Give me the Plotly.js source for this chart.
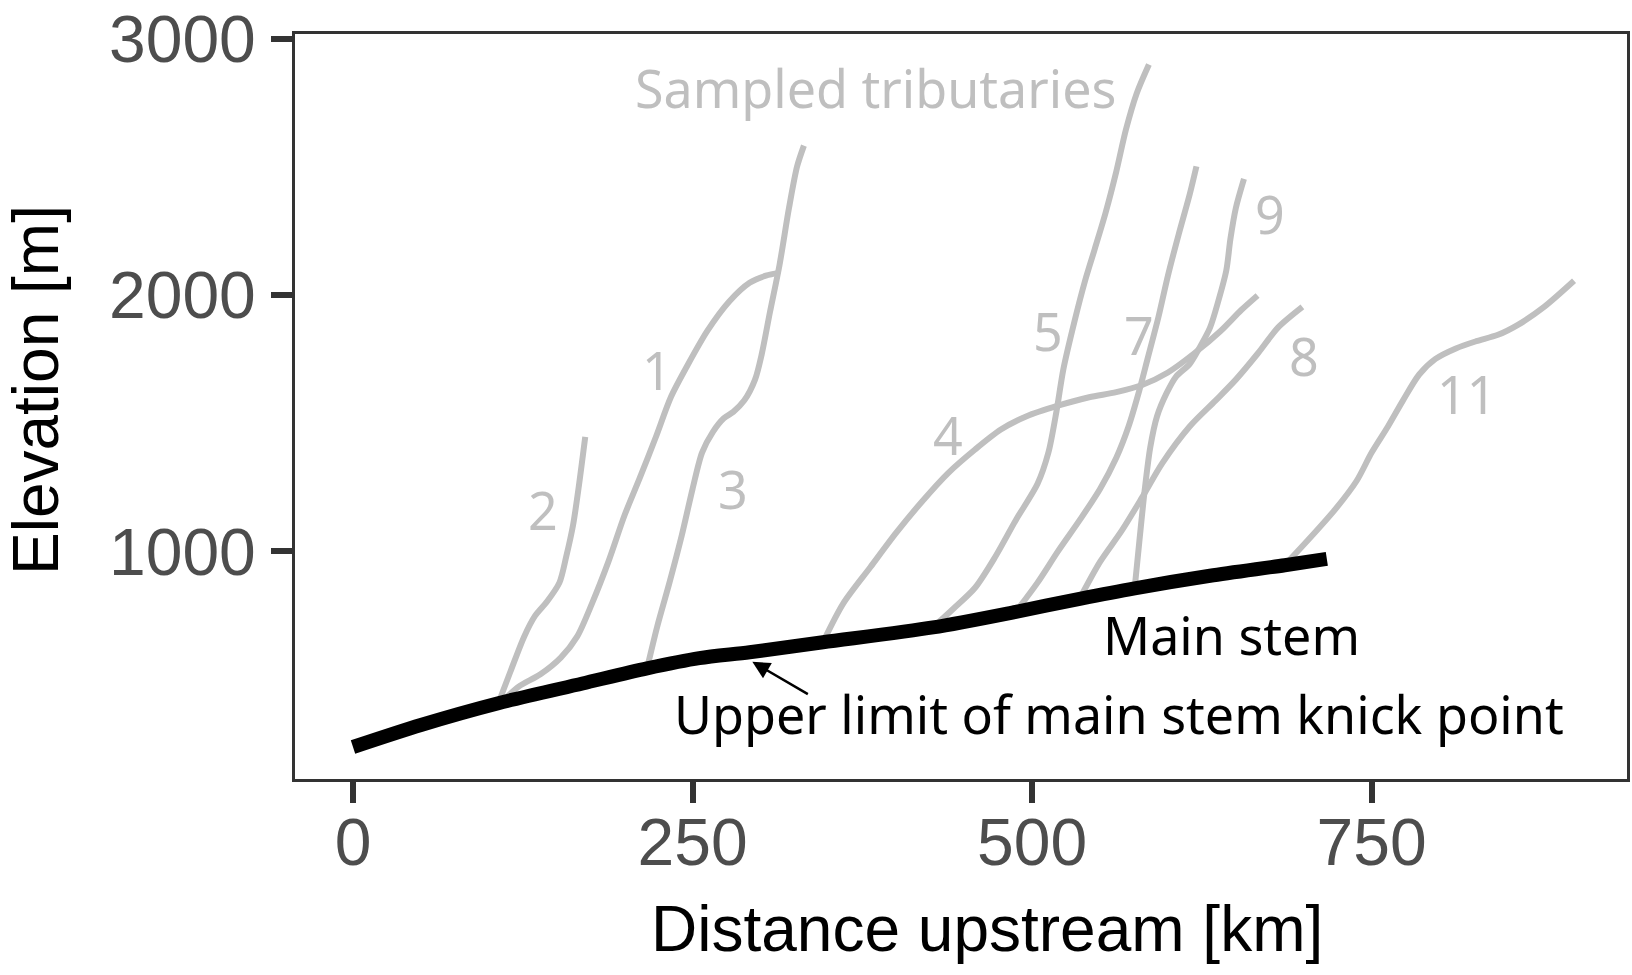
<!DOCTYPE html>
<html>
<head>
<meta charset="utf-8">
<script src="https://cdn.plot.ly/plotly-3.0.1.min.js"></script>
<style>html,body{margin:0;padding:0;background:#fff;}#chart{width:1632px;height:975px;}</style>
</head>
<body>
<div id="chart"></div>
<script>
// Main stem profile
const mainX = [0, 50, 107, 169, 216.5, 255, 292, 346, 427, 488, 535, 575.5, 631, 686, 717];
const mainY = [236, 322, 407, 484, 543, 583, 606, 645, 703, 764, 815, 856, 905, 946, 971];

// Tributaries (distance km, elevation m)
const t1x = [109, 122, 138, 153, 165, 176, 188, 200, 211, 223, 234, 246, 261, 277, 292, 304, 314];
const t1y = [410, 472, 520, 585, 667, 797, 959, 1142, 1285, 1447, 1602, 1724, 1862, 1976, 2049, 2077, 2089];
const t2x = [107, 116, 126, 134, 143, 152, 157, 162, 166, 171];
const t2y = [407, 532, 667, 748, 805, 878, 980, 1102, 1244, 1447];
const t3x = [216.5, 224, 233, 242, 250, 257, 265, 273, 280, 288, 296, 301, 307, 314, 321, 327, 332];
const t3y = [543, 707, 878, 1061, 1244, 1386, 1467, 1520, 1545, 1589, 1671, 1772, 1935, 2118, 2341, 2504, 2585];
const t4x = [346, 361, 381, 400, 419, 438, 458, 477, 496, 519, 542, 562, 581, 600, 619, 639, 654, 666];
const t4y = [645, 797, 939, 1073, 1195, 1305, 1398, 1476, 1528, 1569, 1602, 1622, 1650, 1699, 1772, 1862, 1943, 2000];
const t5x = [427, 442, 458, 473, 488, 504, 512, 518, 523, 531, 539, 546, 554, 562, 569, 577, 586];
const t5y = [703, 776, 858, 980, 1122, 1264, 1386, 1549, 1711, 1894, 2057, 2179, 2321, 2484, 2646, 2789, 2902];
const t7x = [488, 504, 519, 535, 550, 562, 571, 579, 585, 593, 600, 608, 616, 621];
const t7y = [764, 878, 1000, 1122, 1244, 1366, 1488, 1630, 1752, 1915, 2077, 2240, 2394, 2504];
const t8x = [535, 550, 566, 581, 596, 616, 635, 650, 666, 681, 699];
const t8y = [815, 959, 1081, 1211, 1346, 1488, 1589, 1671, 1772, 1874, 1955];
const t9x = [575.5, 579, 583, 587, 592, 599, 606, 616, 623, 631, 637, 643, 646, 650, 656];
const t9y = [856, 1041, 1244, 1407, 1528, 1618, 1683, 1732, 1793, 1874, 1976, 2098, 2220, 2341, 2455];
const t11x = [686, 704, 723, 739, 750, 762, 773, 785, 797, 812, 827, 843, 858, 877, 899];
const t11y = [946, 1049, 1163, 1276, 1386, 1488, 1589, 1691, 1752, 1793, 1821, 1846, 1886, 1955, 2057];

// Tributary labels
const labelText = ['1', '2', '3', '4', '5', '7', '8', '9', '11'];
const labelX = [224, 140, 280, 438, 512, 579, 700, 675, 820];
const labelY = [1711, 1163, 1244, 1455, 1862, 1846, 1764, 2321, 1618];

const xTickVals = [0, 250, 500, 750];
const yTickVals = [1000, 2000, 3000];

const GREY = '#bfbfbf';
const tribs = [[t1x,t1y],[t2x,t2y],[t3x,t3y],[t4x,t4y],[t5x,t5y],[t7x,t7y],[t8x,t8y],[t9x,t9y],[t11x,t11y]];
const traces = tribs.map(t => ({
  x: t[0], y: t[1], type: 'scatter', mode: 'lines',
  line: {color: GREY, width: 6, shape: 'spline', smoothing: 0.8},
  hoverinfo: 'skip', showlegend: false
}));
traces.push({
  x: mainX, y: mainY, type: 'scatter', mode: 'lines',
  line: {color: '#000000', width: 14, shape: 'spline', smoothing: 0.8},
  hoverinfo: 'skip', showlegend: false
});

const L = 295, R = 1627, T = 34, B = 779;
const annFont = 'Noto Sans, Open Sans, sans-serif';
const annotations = labelText.map((t, i) => ({
  x: labelX[i], y: labelY[i], xref: 'x', yref: 'y', text: t, showarrow: false,
  font: {family: annFont, size: 52, color: GREY}
}));
annotations.push({x: 385, y: 2812, xref: 'x', yref: 'y', text: 'Sampled tributaries', showarrow: false,
  font: {family: annFont, size: 52, color: GREY}});
annotations.push({x: 647, y: 676, xref: 'x', yref: 'y', text: 'Main stem', showarrow: false,
  font: {family: annFont, size: 52, color: '#000'}});
annotations.push({x: 564, y: 366, xref: 'x', yref: 'y', text: 'Upper limit of main stem knick point', showarrow: false,
  font: {family: annFont, size: 52, color: '#000'}});
annotations.push({x: 294, y: 569, xref: 'x', yref: 'y', ax: 336, ay: 439, axref: 'x', ayref: 'y',
  text: '', showarrow: true, arrowhead: 2, arrowsize: 1.4, arrowwidth: 2.5, arrowcolor: '#000', standoff: 0});
// axis titles placed as text
annotations.push({x: (987 - L) / (R - L), y: -(953 - B + 14) / (B - T), xref: 'paper', yref: 'paper',
  xanchor: 'center', yanchor: 'bottom',
  text: 'Distance upstream [km]', showarrow: false,
  font: {family: 'Liberation Sans, Arial, sans-serif', size: 64, color: '#000'}});
annotations.push({x: (36 - L) / (R - L), y: (B - 390) / (B - T), xref: 'paper', yref: 'paper',
  xanchor: 'center', yanchor: 'middle',
  text: 'Elevation [m]', showarrow: false, textangle: -90,
  font: {family: 'Liberation Sans, Arial, sans-serif', size: 64, color: '#000'}});

const axisCommon = {
  showgrid: false, zeroline: false, showline: true, linecolor: '#333333', linewidth: 3, mirror: true,
  ticks: 'outside', ticklen: 21, tickwidth: 6, tickcolor: '#333333',
  tickfont: {family: 'Liberation Sans, Arial, sans-serif', size: 66, color: '#4d4d4d'}
};

const layout = {
  width: 1632, height: 975,
  margin: {l: L, r: 1632 - R, t: T, b: 975 - B, pad: 0},
  paper_bgcolor: '#ffffff', plot_bgcolor: '#ffffff',
  showlegend: false,
  xaxis: Object.assign({}, axisCommon, {range: [-42.7, 938], tickvals: xTickVals, ticktext: xTickVals.map(String), ticklabelstandoff: -17}),
  yaxis: Object.assign({}, axisCommon, {range: [111, 3021], tickvals: yTickVals, ticktext: yTickVals.map(String), ticklabelstandoff: 2}),
  annotations: annotations
};

Plotly.newPlot('chart', traces, layout, {staticPlot: true, displayModeBar: false});
</script>
</body>
</html>
